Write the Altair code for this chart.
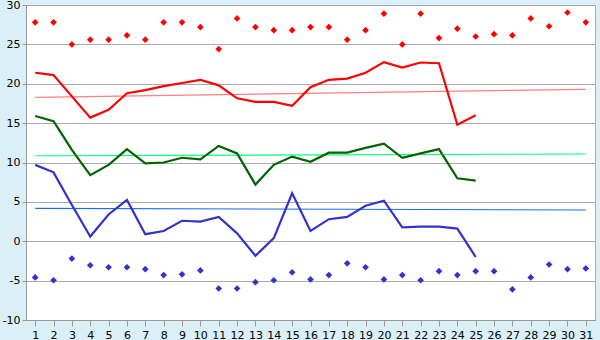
import altair as alt
import pandas as pd

days = list(range(1, 32))
line_days = list(range(1, 26))

max_temp = [21.4, 21.1, 18.4, 15.7, 16.7, 18.8, 19.2, 19.7, 20.1, 20.5,
            19.8, 18.15, 17.7, 17.7, 17.2, 19.55, 20.5, 20.65, 21.4, 22.75,
            22.05, 22.7, 22.6, 14.8, 16.0]
mean_temp = [15.9, 15.25, 11.6, 8.4, 9.7, 11.7, 9.9, 10.0, 10.6, 10.4,
             12.1, 11.15, 7.2, 9.7, 10.75, 10.1, 11.25, 11.25, 11.85, 12.4,
             10.6, 11.15, 11.7, 8.0, 7.7]
min_temp = [9.7, 8.75, 4.6, 0.6, 3.4, 5.25, 0.9, 1.3, 2.6, 2.5,
            3.1, 1.0, -1.85, 0.4, 6.1, 1.3, 2.8, 3.1, 4.5, 5.15,
            1.75, 1.85, 1.85, 1.6, -2.0]
record_max = [27.8, 27.8, 25.0, 25.6, 25.6, 26.15, 25.6, 27.8, 27.8, 27.2,
              24.4, 28.3, 27.2, 26.8, 26.8, 27.2, 27.2, 25.6, 26.8, 28.9,
              25.0, 28.9, 25.8, 27.0, 26.0, 26.3, 26.15, 28.3, 27.3, 29.05, 27.8]
record_min = [-4.6, -4.95, -2.2, -3.05, -3.3, -3.3, -3.55, -4.3, -4.2, -3.7,
              -6.0, -6.0, -5.2, -4.95, -3.95, -4.85, -4.3, -2.8, -3.3, -4.85,
              -4.3, -4.95, -3.8, -4.3, -3.8, -3.8, -6.1, -4.6, -2.95, -3.55, -3.45]
trend_days = [1, 31]
trend_max = [18.28, 19.29]
trend_mean = [10.86, 11.08]
trend_min = [4.18, 3.97]

x_ticks = days
y_ticks = [-10, -5, 0, 5, 10, 15, 20, 25, 30]

xs = alt.Scale(domain=[0.5, 31.5], nice=False, zero=False)
ys = alt.Scale(domain=[-10, 30], nice=False, zero=False)

x_axis = alt.Axis(values=x_ticks, title=None, grid=False, tickSize=6, tickColor="#999999",
                  domainColor="#999999", labelFontSize=11, labelFont="DejaVu Sans",
                  labelColor="#000000", labelPadding=3, labelFlush=False)
y_axis = alt.Axis(values=y_ticks, title=None, grid=True, gridColor="#aaaaaa", tickSize=4,
                  tickColor="#999999", domainColor="#999999", labelFontSize=11,
                  labelFont="DejaVu Sans", labelColor="#000000", labelPadding=2,
                  labelExpr="'' + datum.value")

lines_df = pd.DataFrame({"day": line_days, "max": max_temp, "mean": mean_temp, "min": min_temp})
rec_df = pd.DataFrame({"day": days, "rmax": record_max, "rmin": record_min})
trend_df = pd.DataFrame({"day": trend_days, "tmax": trend_max, "tmean": trend_mean, "tmin": trend_min})

def enc(field):
    return dict(
        x=alt.X("day:Q", scale=xs, axis=x_axis),
        y=alt.Y(f"{field}:Q", scale=ys, axis=y_axis),
    )

def line(df, field, color, width):
    return alt.Chart(df).mark_line(color=color, strokeWidth=width, clip=True).encode(**enc(field))

def pts(df, field, color):
    return alt.Chart(df).mark_point(shape="diamond", filled=True, size=45, color=color,
                                    opacity=1).encode(**enc(field))

chart = alt.layer(
    line(trend_df, "tmax", "#ff8080", 1.2),
    line(trend_df, "tmean", "#00ff80", 1.2),
    line(trend_df, "tmin", "#1a70e0", 1.2),
    pts(rec_df, "rmax", "#ff0000"),
    pts(rec_df, "rmin", "#3333cc"),
    line(lines_df, "max", "#ff0000", 2.2),
    line(lines_df, "mean", "#006400", 2.2),
    line(lines_df, "min", "#3333cc", 2.2),
).properties(
    width=569, height=315,
    autosize=alt.AutoSizeParams(type="none"),
    padding={"left": 26, "top": 5, "right": 5, "bottom": 20},
    background="#daeff6",
).configure_view(fill="#ffffff", stroke="#aaaaaa", strokeWidth=1)

chart.save("out.html", embed_options={"renderer": "svg", "actions": False})
